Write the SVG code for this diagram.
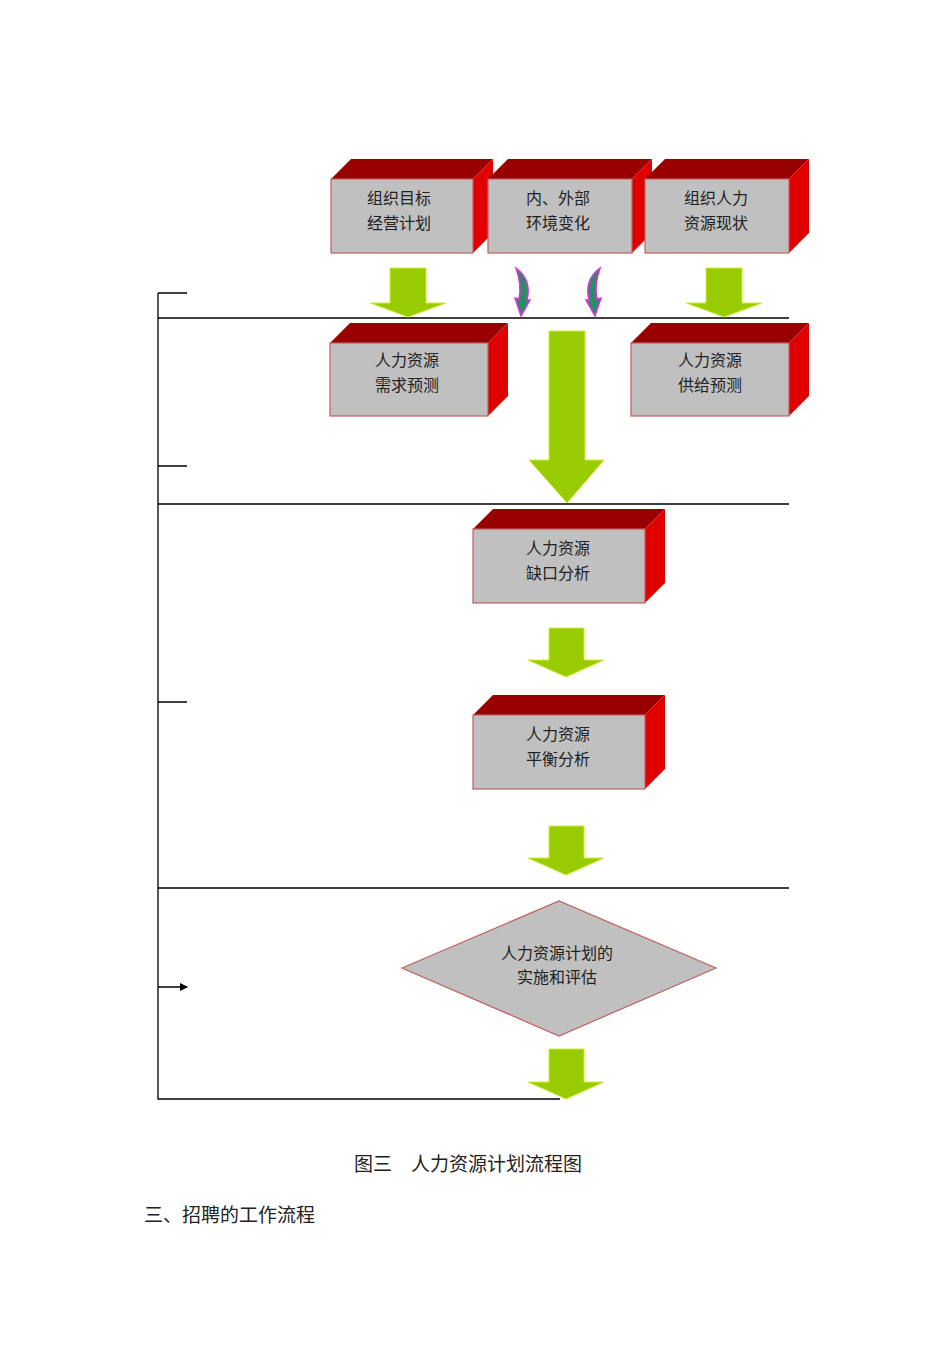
<svg xmlns="http://www.w3.org/2000/svg" width="950" height="1345" viewBox="0 0 950 1345">
<style>
.f{fill:#c0c0c0;stroke:#c06060;stroke-width:1.2}
.t{fill:#990000}
.s{fill:#e00000}
.g{fill:#99cc00;stroke:#ccee33;stroke-width:1}
.tx{font-family:"Noto Sans CJK SC","Noto Sans",sans-serif;font-size:16px;fill:#222;text-anchor:middle}
.ln{stroke:#000;stroke-width:1.3;fill:none}
.cv{fill:#2e8b6a;stroke:#dd33dd;stroke-width:1.5}
</style>
<defs><marker id="ah" markerWidth="8" markerHeight="8" refX="7" refY="4" orient="auto" markerUnits="userSpaceOnUse"><path d="M0,0 L8,4 L0,8 Z" fill="#000"/></marker></defs>
<rect width="950" height="1345" fill="#fff"/>
<g id="connectors">
<path class="ln" d="M158,293 V1099 H560"/>
<path class="ln" d="M158,318 H789 M158,504 H789 M158,888 H789" stroke="#444"/>
<path class="ln" marker-end="url(#ah)" d="M158,293 H187 M158,466 H187 M158,702 H187 M158,987 H187"/>
<path class="g" d="M390,268 H426 V303 H446 L408,317 L370,303 H390 Z"/>
<path class="g" d="M706,268 H742 V303 H762 L724,317 L686,303 H706 Z"/>
<path class="g" d="M549,331 H585 V460 H604 L567,503 L529,460 H549 Z"/>
<path class="g" d="M549,628 H584 V660 H604 L566,677 L528,660 H549 Z"/>
<path class="g" d="M549,826 H584 V858 H604 L566,875 L528,858 H549 Z"/>
<path class="g" d="M549,1049 H584 V1082 H604 L566,1099 L528,1082 H549 Z"/>
<path class="cv" d="M516,268 Q532,280 527,300 L530,300 L521,316 L515,298 L519,299 Q522,285 516,268 Z"/>
<path class="cv" d="M600,268 Q584,280 589,300 L586,300 L595,316 L601,298 L597,299 Q594,285 600,268 Z"/>
</g>
<g id="n1"><path class="t" d="M331,179 L351,159 H493 L473,179 Z"/><path class="s" d="M473,179 L493,159 V233 L473,253 Z"/><rect class="f" x="331" y="179" width="142" height="74"/><text class="tx" x="399" y="204">组织目标</text><text class="tx" x="399" y="229">经营计划</text></g>
<g id="n2"><path class="t" d="M488,179 L508,159 H652 L632,179 Z"/><path class="s" d="M632,179 L652,159 V233 L632,253 Z"/><rect class="f" x="488" y="179" width="144" height="74"/><text class="tx" x="558" y="204">内、外部</text><text class="tx" x="558" y="229">环境变化</text></g>
<g id="n3"><path class="t" d="M645,179 L665,159 H809 L789,179 Z"/><path class="s" d="M789,179 L809,159 V233 L789,253 Z"/><rect class="f" x="645" y="179" width="144" height="74"/><text class="tx" x="716" y="204">组织人力</text><text class="tx" x="716" y="229">资源现状</text></g>
<g id="n4"><path class="t" d="M330,343 L350,323 H508 L488,343 Z"/><path class="s" d="M488,343 L508,323 V396 L488,416 Z"/><rect class="f" x="330" y="343" width="158" height="73"/><text class="tx" x="407" y="366">人力资源</text><text class="tx" x="407" y="391">需求预测</text></g>
<g id="n5"><path class="t" d="M631,343 L651,323 H809 L789,343 Z"/><path class="s" d="M789,343 L809,323 V396 L789,416 Z"/><rect class="f" x="631" y="343" width="158" height="73"/><text class="tx" x="710" y="366">人力资源</text><text class="tx" x="710" y="391">供给预测</text></g>
<g id="n6"><path class="t" d="M473,529 L493,509 H665 L645,529 Z"/><path class="s" d="M645,529 L665,509 V583 L645,603 Z"/><rect class="f" x="473" y="529" width="172" height="74"/><text class="tx" x="558" y="554">人力资源</text><text class="tx" x="558" y="579">缺口分析</text></g>
<g id="n7"><path class="t" d="M473,715 L493,695 H665 L645,715 Z"/><path class="s" d="M645,715 L665,695 V769 L645,789 Z"/><rect class="f" x="473" y="715" width="172" height="74"/><text class="tx" x="558" y="740">人力资源</text><text class="tx" x="558" y="765">平衡分析</text></g>
<g id="n8"><path class="f" d="M402,968 L559,901 L716,968 L559,1036 Z"/><text class="tx" x="557" y="959">人力资源计划的</text><text class="tx" x="557" y="983">实施和评估</text></g>
<text x="468" y="1171" style="font-family:'Noto Sans CJK SC',sans-serif;font-size:19px;fill:#222;text-anchor:middle">图三　人力资源计划流程图</text>
<text x="144" y="1222" style="font-family:'Noto Sans CJK SC',sans-serif;font-size:19px;fill:#222">三、招聘的工作流程</text>
</svg>
